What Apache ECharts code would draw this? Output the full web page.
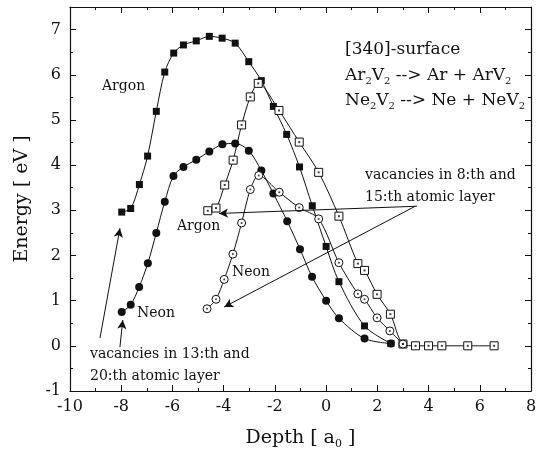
<!DOCTYPE html>
<html lang="en">
<head>
    <meta charset="UTF-8">
    <title>Energy vs depth</title>
    <script src="https://cdn.jsdelivr.net/npm/echarts@6/dist/echarts.min.js"></script>
    <style>
        html, body { margin: 0; padding: 0; background: #fff; }
        #chart { width: 540px; height: 460px; }
    </style>
</head>
<body>
<div id="chart"></div>
<script type="text/javascript">
    // data (depth in a0, energy in eV)
    var arFilledX = [-7.98, -7.63, -7.29, -6.97, -6.63, -6.30, -5.95, -5.57, -5.07, -4.56, -4.06, -3.55, -3.02, -2.53, -2.06, -1.54, -1.04, -0.54, 0.0, 0.5, 1.5, 2.53];
    var arFilledY = [2.96, 3.04, 3.57, 4.20, 5.19, 6.06, 6.48, 6.66, 6.75, 6.85, 6.81, 6.70, 6.29, 5.87, 5.30, 4.68, 3.96, 3.10, 2.20, 1.42, 0.44, 0.05];

    var neFilledX = [-7.98, -7.63, -7.30, -6.96, -6.63, -6.30, -5.96, -5.57, -5.07, -4.56, -4.05, -3.55, -3.02, -2.53, -2.06, -1.52, -1.02, -0.55, 0.0, 0.5, 1.5, 2.53];
    var neFilledY = [0.75, 0.91, 1.30, 1.83, 2.50, 3.19, 3.76, 3.96, 4.12, 4.30, 4.46, 4.48, 4.32, 3.88, 3.37, 2.76, 2.14, 1.53, 1.00, 0.61, 0.16, 0.05];

    var arOpenX = [-4.62, -4.30, -3.96, -3.63, -3.30, -2.96, -2.65, -1.84, -1.05, -0.29, 0.5, 1.24, 1.5, 1.99, 2.51, 3.0, 3.49, 4.0, 4.52, 5.53, 6.56];
    var arOpenY = [2.99, 3.05, 3.56, 4.11, 4.89, 5.51, 5.81, 5.21, 4.51, 3.84, 2.87, 1.82, 1.67, 1.14, 0.70, 0.04, 0, 0, 0, 0, 0];

    var neOpenX = [-4.65, -4.30, -3.98, -3.64, -3.30, -2.96, -2.63, -1.83, -1.05, -0.29, 0.5, 1.24, 1.5, 1.99, 2.49, 3.0];
    var neOpenY = [0.82, 1.03, 1.47, 2.03, 2.72, 3.46, 3.77, 3.40, 3.06, 2.81, 1.84, 1.15, 1.03, 0.62, 0.33, 0.04];

    // arrows: [fromX, fromY, toX, toY] in data units
    var arrows = [
        [-8.83, 0.17, -8.05, 2.60],
        [-8.05, -0.03, -7.94, 0.57],
        [3.55, 3.09, -4.18, 2.93],
        [3.48, 3.09, -3.98, 0.86]
    ];

    var xTicks = { min: -10, max: 8, step: 2 };
    var yTicks = { min: -1, max: 7.5, step: 1 };

    function pairs(xs, ys) {
        var out = [];
        for (var i = 0; i < xs.length; i++) out.push([xs[i], ys[i]]);
        return out;
    }

    var serif = 'DejaVu Serif';
    var ink = '#111';

    var myChart = echarts.init(document.getElementById('chart'));

    function axisX(pos) {
        return {
            type: 'value', position: pos,
            min: xTicks.min, max: xTicks.max, interval: xTicks.step,
            axisLine: { onZero: false, lineStyle: { color: ink, width: 1.2 } },
            axisTick: { inside: true, length: 6, lineStyle: { color: ink } },
            minorTick: { show: true, splitNumber: 2, length: 3, lineStyle: { color: ink } },
            splitLine: { show: false },
            axisLabel: { show: pos === 'bottom', color: ink, fontFamily: serif, fontSize: 16, margin: 8 },
            name: pos === 'bottom' ? 'Depth [ a{s|0} ]' : '',
            nameLocation: 'middle', nameGap: 36,
            nameTextStyle: {
                color: ink, fontFamily: serif, fontSize: 19,
                rich: { s: { fontFamily: serif, fontSize: 11, padding: [12, 0, 0, 0] } }
            }
        };
    }
    function axisY(pos) {
        return {
            type: 'value', position: pos,
            min: yTicks.min, max: yTicks.max, interval: yTicks.step,
            axisLine: { onZero: false, lineStyle: { color: ink, width: 1.2 } },
            axisTick: { inside: true, length: 6, lineStyle: { color: ink } },
            minorTick: { show: true, splitNumber: 2, length: 3, lineStyle: { color: ink } },
            splitLine: { show: false },
            axisLabel: {
                show: pos === 'left', color: ink, fontFamily: serif, fontSize: 16, margin: 9,
                formatter: function (v) { return v % 1 === 0 ? String(v) : ''; }
            },
            name: pos === 'left' ? 'Energy [ eV ]' : '',
            nameLocation: 'middle', nameGap: 38,
            nameTextStyle: { color: ink, fontFamily: serif, fontSize: 19 }
        };
    }

    function lineSeries(data, symbol, size, open) {
        return {
            type: 'line', data: data, smooth: 0.3,
            symbol: symbol, symbolSize: size, showAllSymbol: true,
            lineStyle: { color: ink, width: 1 },
            itemStyle: open ? { color: '#fff', borderColor: ink, borderWidth: 1 } : { color: ink },
            z: 3
        };
    }
    function dotSeries(data, symbol) {
        return {
            type: 'scatter', data: data, symbol: symbol, symbolSize: 2,
            itemStyle: { color: ink }, z: 5, silent: true
        };
    }

    var arrowLines = arrows.map(function (a) {
        return [{ coord: [a[0], a[1]] }, { coord: [a[2], a[3]] }];
    });

    function label(x, y, text, size, rich) {
        return {
            type: 'text', x: x, y: y, z: 10,
            style: {
                text: text, fontFamily: serif, fontSize: size, fill: ink,
                verticalAlign: 'middle', align: 'left', rich: rich || {}
            }
        };
    }
    var sub = { s: { fontFamily: serif, fontSize: 10, padding: [11, 0, 0, 0] } };

    var option = {
        animation: false,
        backgroundColor: '#fff',
        grid: { left: 70, right: 9, top: 7, bottom: 69 },
        xAxis: [axisX('bottom'), axisX('top')],
        yAxis: [axisY('left'), axisY('right')],
        series: [
            lineSeries(pairs(arFilledX, arFilledY), 'rect', 7, false),
            lineSeries(pairs(neFilledX, neFilledY), 'circle', 8, false),
            lineSeries(pairs(arOpenX, arOpenY), 'rect', 8, true),
            lineSeries(pairs(neOpenX, neOpenY), 'circle', 8, true),
            dotSeries(pairs(arOpenX, arOpenY), 'rect'),
            dotSeries(pairs(neOpenX, neOpenY), 'circle'),
            {
                type: 'line', data: [], silent: true,
                markLine: {
                    silent: true, animation: false,
                    symbol: ['none', 'arrow'], symbolSize: [7, 9],
                    label: { show: false },
                    lineStyle: { color: ink, width: 1, type: 'solid' },
                    data: arrowLines
                }
            }
        ],
        graphic: [
            label(102, 86, 'Argon', 14),
            label(177, 226, 'Argon', 14),
            label(232, 272, 'Neon', 14),
            label(137, 313, 'Neon', 14),
            label(345, 50, '[340]-surface', 17),
            label(345, 76, 'Ar{s|2}V{s|2} --> Ar + ArV{s|2}', 17, sub),
            label(345, 101, 'Ne{s|2}V{s|2} --> Ne + NeV{s|2}', 17, sub),
            label(365, 175, 'vacancies in 8:th and', 14),
            label(365, 197, '15:th atomic layer', 14),
            label(90, 354, 'vacancies in 13:th and', 14),
            label(90, 376, '20:th atomic layer', 14)
        ]
    };
    myChart.setOption(option);
</script>
</body>
</html>
